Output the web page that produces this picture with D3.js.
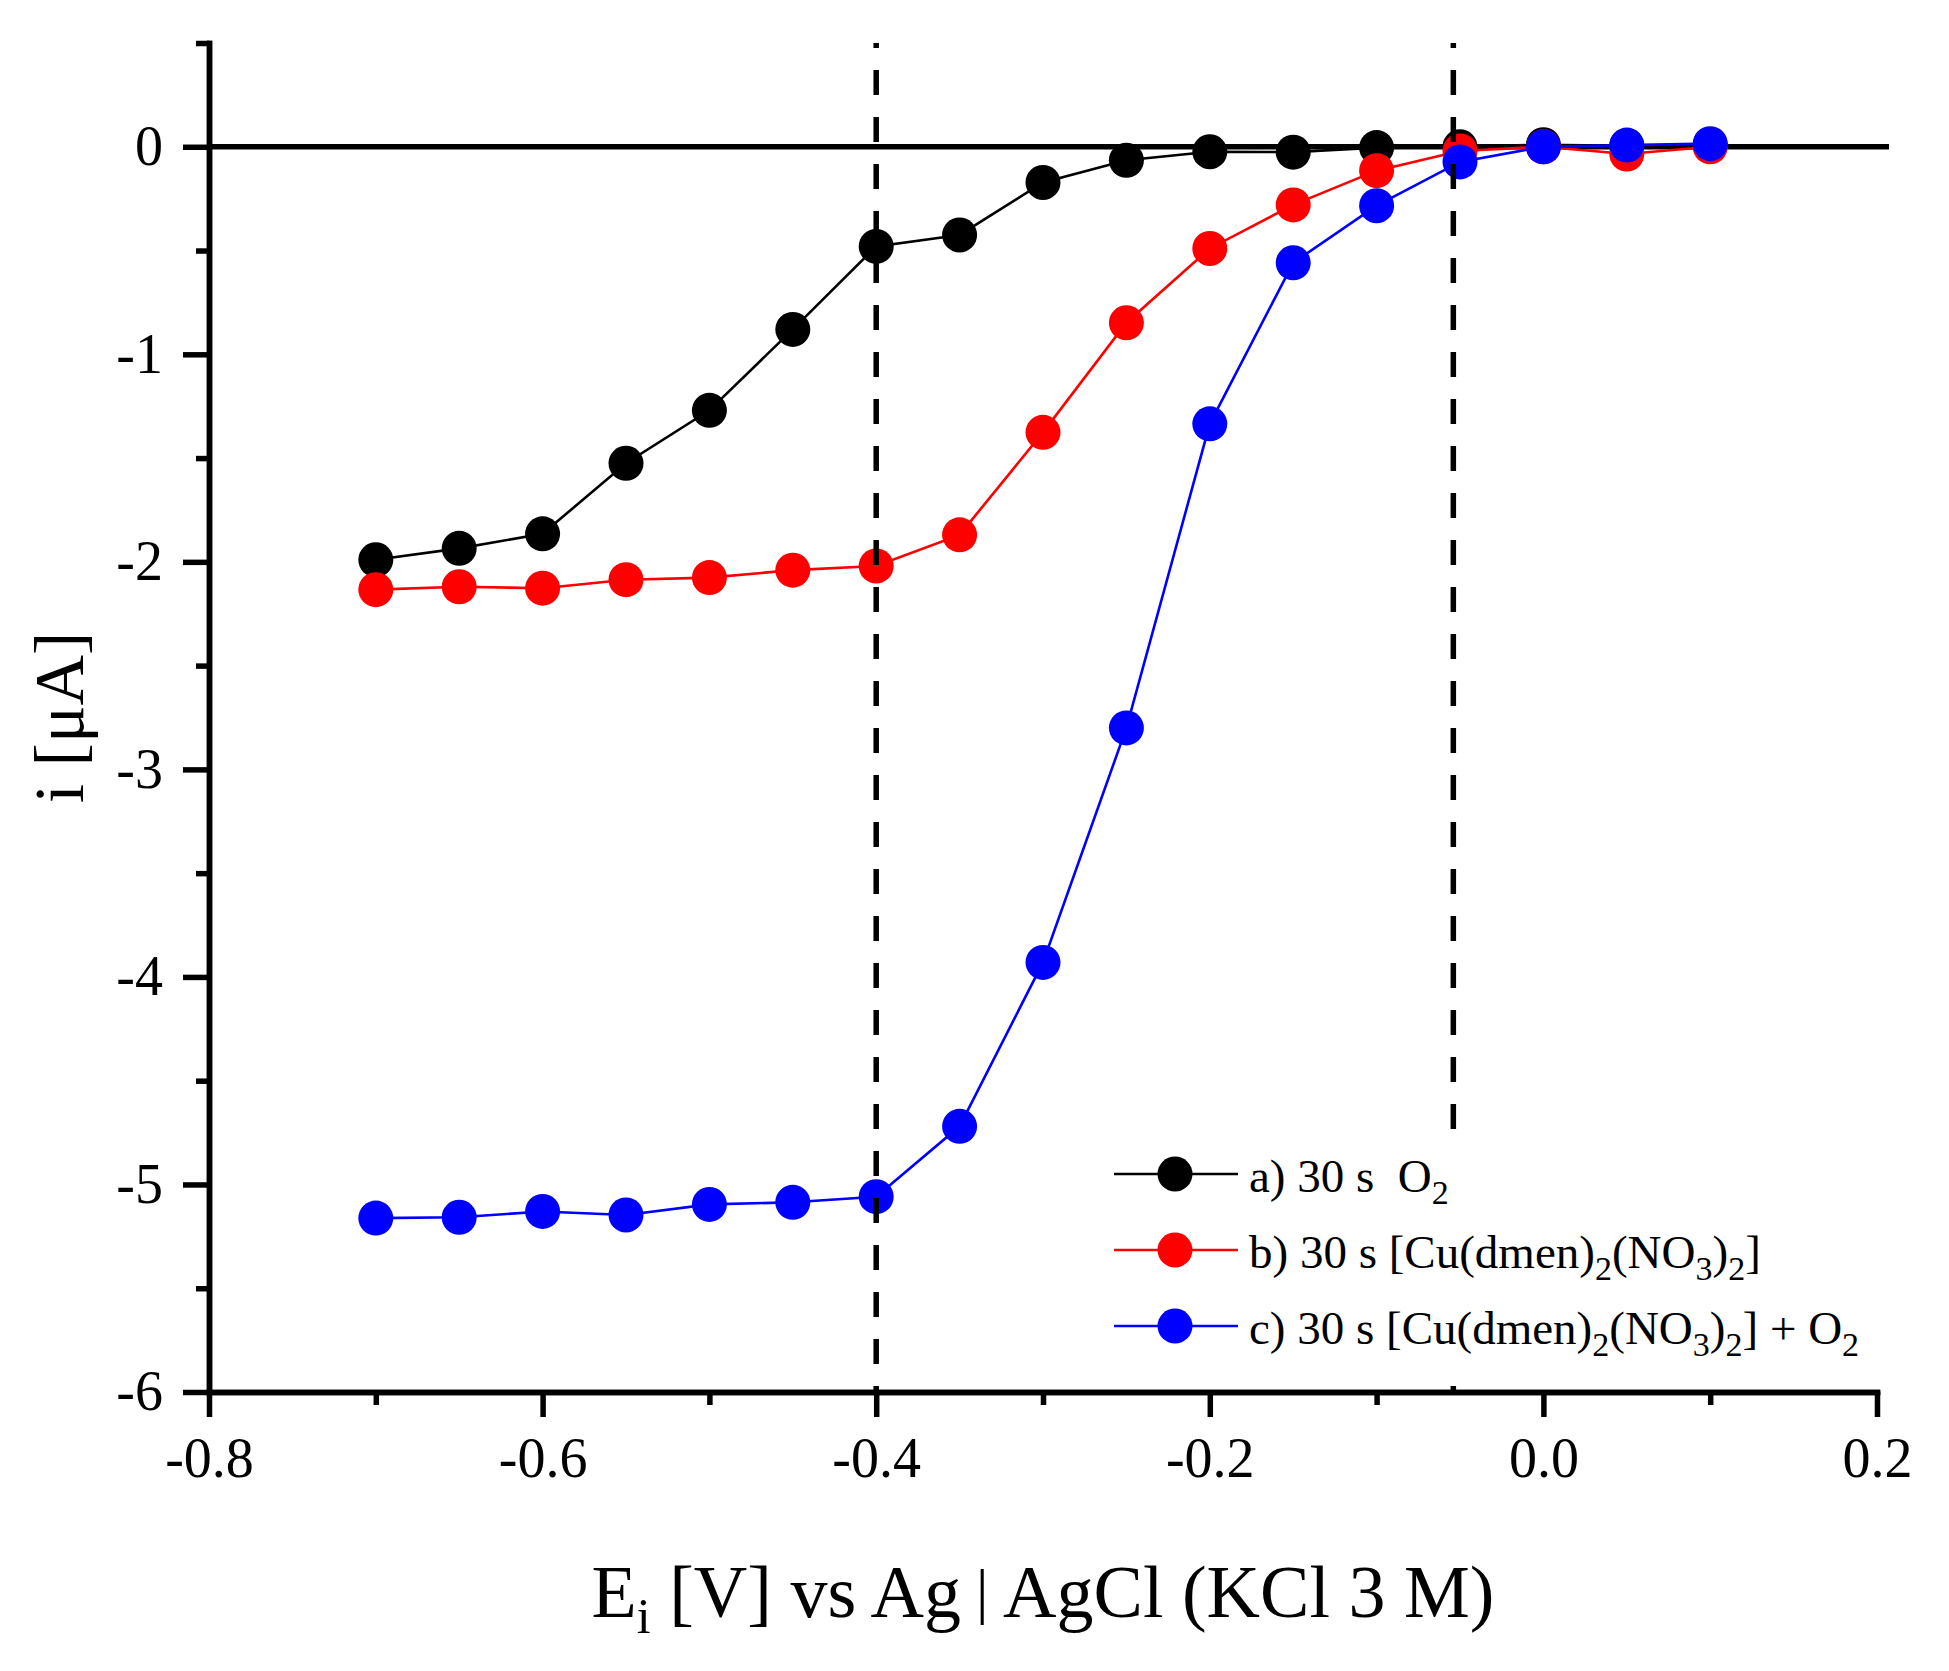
<!DOCTYPE html>
<html>
<head>
<meta charset="utf-8">
<script src="https://cdn.jsdelivr.net/npm/d3@7"></script>
<style>
  html, body { margin: 0; padding: 0; background: #fff; }
  svg { display: block; }
  text { font-family: "Palatino Linotype", "Book Antiqua", Palatino, "Liberation Serif", serif; fill: #000; white-space: pre; }
</style>
</head>
<body>
<div id="chart"></div>
<script>
// applied potential (V vs Ag|AgCl)
var potentials = [-0.7, -0.65, -0.6, -0.55, -0.5, -0.45, -0.4, -0.35, -0.3, -0.25, -0.2, -0.15, -0.1, -0.05, 0.0, 0.05, 0.1];

// current (uA) for each run
var currentO2 = [-1.99, -1.935, -1.865, -1.525, -1.27, -0.88, -0.48, -0.425, -0.172, -0.065, -0.024, -0.026, -0.004, 0.0, 0.01, 0.005, 0.01];
var currentCu = [-2.134, -2.12, -2.127, -2.086, -2.076, -2.04, -2.02, -1.87, -1.376, -0.848, -0.49, -0.28, -0.115, -0.02, 0.0, -0.035, 0.0];
var currentCuO2 = [-5.162, -5.158, -5.13, -5.147, -5.096, -5.086, -5.059, -4.72, -3.93, -2.80, -1.335, -0.559, -0.284, -0.073, 0.0, 0.008, 0.015];

var seriesNames = ["a", "b", "c"];
var seriesColors = ["#000000", "#ff0000", "#0000ff"];

// potentials marked with the dashed guides
var guidePotentials = [-0.4, -0.054];

var xMajorTicks = [-0.8, -0.6, -0.4, -0.2, 0.0, 0.2];
var xMinorTicks = [-0.7, -0.5, -0.3, -0.1, 0.1];
var yMajorTicks = [-6, -5, -4, -3, -2, -1, 0];
var yMinorTicks = [-5.5, -4.5, -3.5, -2.5, -1.5, -0.5, 0.5];

function init() {
    var W = 1949, H = 1671;
    var left = 209, right = 1877, top = 43, bottom = 1392;

    var svg = d3.select("#chart")
        .append("svg")
        .attr("width", W)
        .attr("height", H);

    var x = d3.scaleLinear().domain([-0.8, 0.2]).range([left, right]);
    var y = d3.scaleLinear().domain([-6, 0.5]).range([bottom, top]);

    var series = [currentO2, currentCu, currentCuO2].map(function (vals, i) {
        return {
            name: seriesNames[i],
            color: seriesColors[i],
            points: potentials.map(function (p, j) { return {x: p, y: vals[j]}; })
        };
    });

    // zero line
    svg.append("line")
        .attr("x1", x(-0.8)).attr("x2", x(0.2) + 12)
        .attr("y1", y(0)).attr("y2", y(0))
        .attr("stroke", "#000").attr("stroke-width", 5.5);

    var line = d3.line()
        .x(function (d) { return x(d.x); })
        .y(function (d) { return y(d.y); });

    // each series: line then markers
    series.forEach(function (s) {
        var g = svg.append("g");
        g.append("path")
            .datum(s.points)
            .attr("d", line)
            .attr("fill", "none")
            .attr("stroke", s.color)
            .attr("stroke-width", 2.6);
        g.selectAll("circle")
            .data(s.points)
            .enter()
            .append("circle")
            .attr("cx", function (d) { return x(d.x); })
            .attr("cy", function (d) { return y(d.y); })
            .attr("r", 17.5)
            .attr("fill", s.color);
    });

    // dashed guides
    svg.selectAll(".guide")
        .data(guidePotentials)
        .enter()
        .append("line")
        .attr("class", "guide")
        .attr("x1", function (d) { return x(d); })
        .attr("x2", function (d) { return x(d); })
        .attr("y1", y(0.5))
        .attr("y2", y(-6))
        .attr("stroke", "#000")
        .attr("stroke-width", 5.5)
        .attr("stroke-dasharray", "25,22")
        .attr("stroke-dashoffset", 20);

    // legend (white box hides the guide behind it)
    var legend = svg.append("g").attr("transform", "translate(1105,1138)");
    legend.append("rect")
        .attr("width", 770).attr("height", 234)
        .attr("fill", "#fff");

    var legendLabels = [
        [["a) 30 s  O", 0], ["2", 1]],
        [["b) 30 s [Cu(dmen)", 0], ["2", 1], ["(NO", 0], ["3", 1], [")", 0], ["2", 1], ["]", 0]],
        [["c) 30 s [Cu(dmen)", 0], ["2", 1], ["(NO", 0], ["3", 1], [")", 0], ["2", 1], ["] + O", 0], ["2", 1]]
    ];

    series.forEach(function (s, i) {
        var cy = 36 + i * 76;
        legend.append("line")
            .attr("x1", 9).attr("x2", 133)
            .attr("y1", cy).attr("y2", cy)
            .attr("stroke", s.color).attr("stroke-width", 2.6);
        legend.append("circle")
            .attr("cx", 70).attr("cy", cy).attr("r", 17.5)
            .attr("fill", s.color);
        var t = legend.append("text")
            .attr("x", 144).attr("y", cy + 18)
            .attr("font-size", 47);
        // sub parts drop below the baseline, normal parts come back
        var dyAcc = 0;
        legendLabels[i].forEach(function (part) {
            var want = part[1] ? 12 : 0;
            var ts = t.append("tspan").attr("dy", want - dyAcc).text(part[0]);
            if (part[1]) ts.attr("font-size", 34);
            dyAcc = want;
        });
    });

    // axes
    var yAxis = d3.axisLeft(y).tickValues(yMajorTicks).tickSize(26).tickSizeOuter(0).tickPadding(20)
        .tickFormat(d3.format("d"));
    var yMinor = d3.axisLeft(y).tickValues(yMinorTicks).tickSize(13).tickSizeOuter(0).tickFormat("");
    var xAxis = d3.axisBottom(x).tickValues(xMajorTicks).tickSize(25).tickSizeOuter(0).tickPadding(20)
        .tickFormat(d3.format(".1f"));
    var xMinor = d3.axisBottom(x).tickValues(xMinorTicks).tickSize(13).tickSizeOuter(0).tickFormat("");

    function styleAxis(g) {
        g.select(".domain").attr("stroke", "#000").attr("stroke-width", 5.5).attr("stroke-linecap", "square");
        g.selectAll(".tick line").attr("stroke", "#000").attr("stroke-width", 5.5);
        g.selectAll(".tick text")
            .attr("font-size", 56)
            .attr("font-family", "'Palatino Linotype', 'Book Antiqua', Palatino, 'Liberation Serif', serif")
            .attr("fill", "#000")
            .text(function () { return d3.select(this).text().replace("\u2212", "-"); });
    }

    svg.append("g").attr("transform", "translate(" + left + ",0)").call(yMinor).call(styleAxis);
    svg.append("g").attr("transform", "translate(" + left + ",0)").call(yAxis).call(styleAxis);
    svg.append("g").attr("transform", "translate(0," + bottom + ")").call(xMinor).call(styleAxis);
    svg.append("g").attr("transform", "translate(0," + bottom + ")").call(xAxis).call(styleAxis);

    // axis titles
    svg.append("text")
        .attr("transform", "translate(83," + ((top + bottom) / 2) + ") rotate(-90)")
        .attr("text-anchor", "middle")
        .attr("font-size", 70)
        .text("i [\u03bcA]");

    var xt = svg.append("text")
        .attr("x", (left + right) / 2)
        .attr("y", 1617)
        .attr("text-anchor", "middle")
        .attr("font-size", 74);
    xt.append("tspan").text("E");
    xt.append("tspan").attr("font-size", 50).attr("dy", 16).text("i");
    xt.append("tspan").attr("dy", -16).text(" [V] vs Ag\u2009");
    xt.append("tspan").attr("font-size", 62).attr("dy", -5).text("|");
    xt.append("tspan").attr("dy", 5).text("\u2009AgCl (KCl 3 M)");
}

init();
</script>
</body>
</html>
